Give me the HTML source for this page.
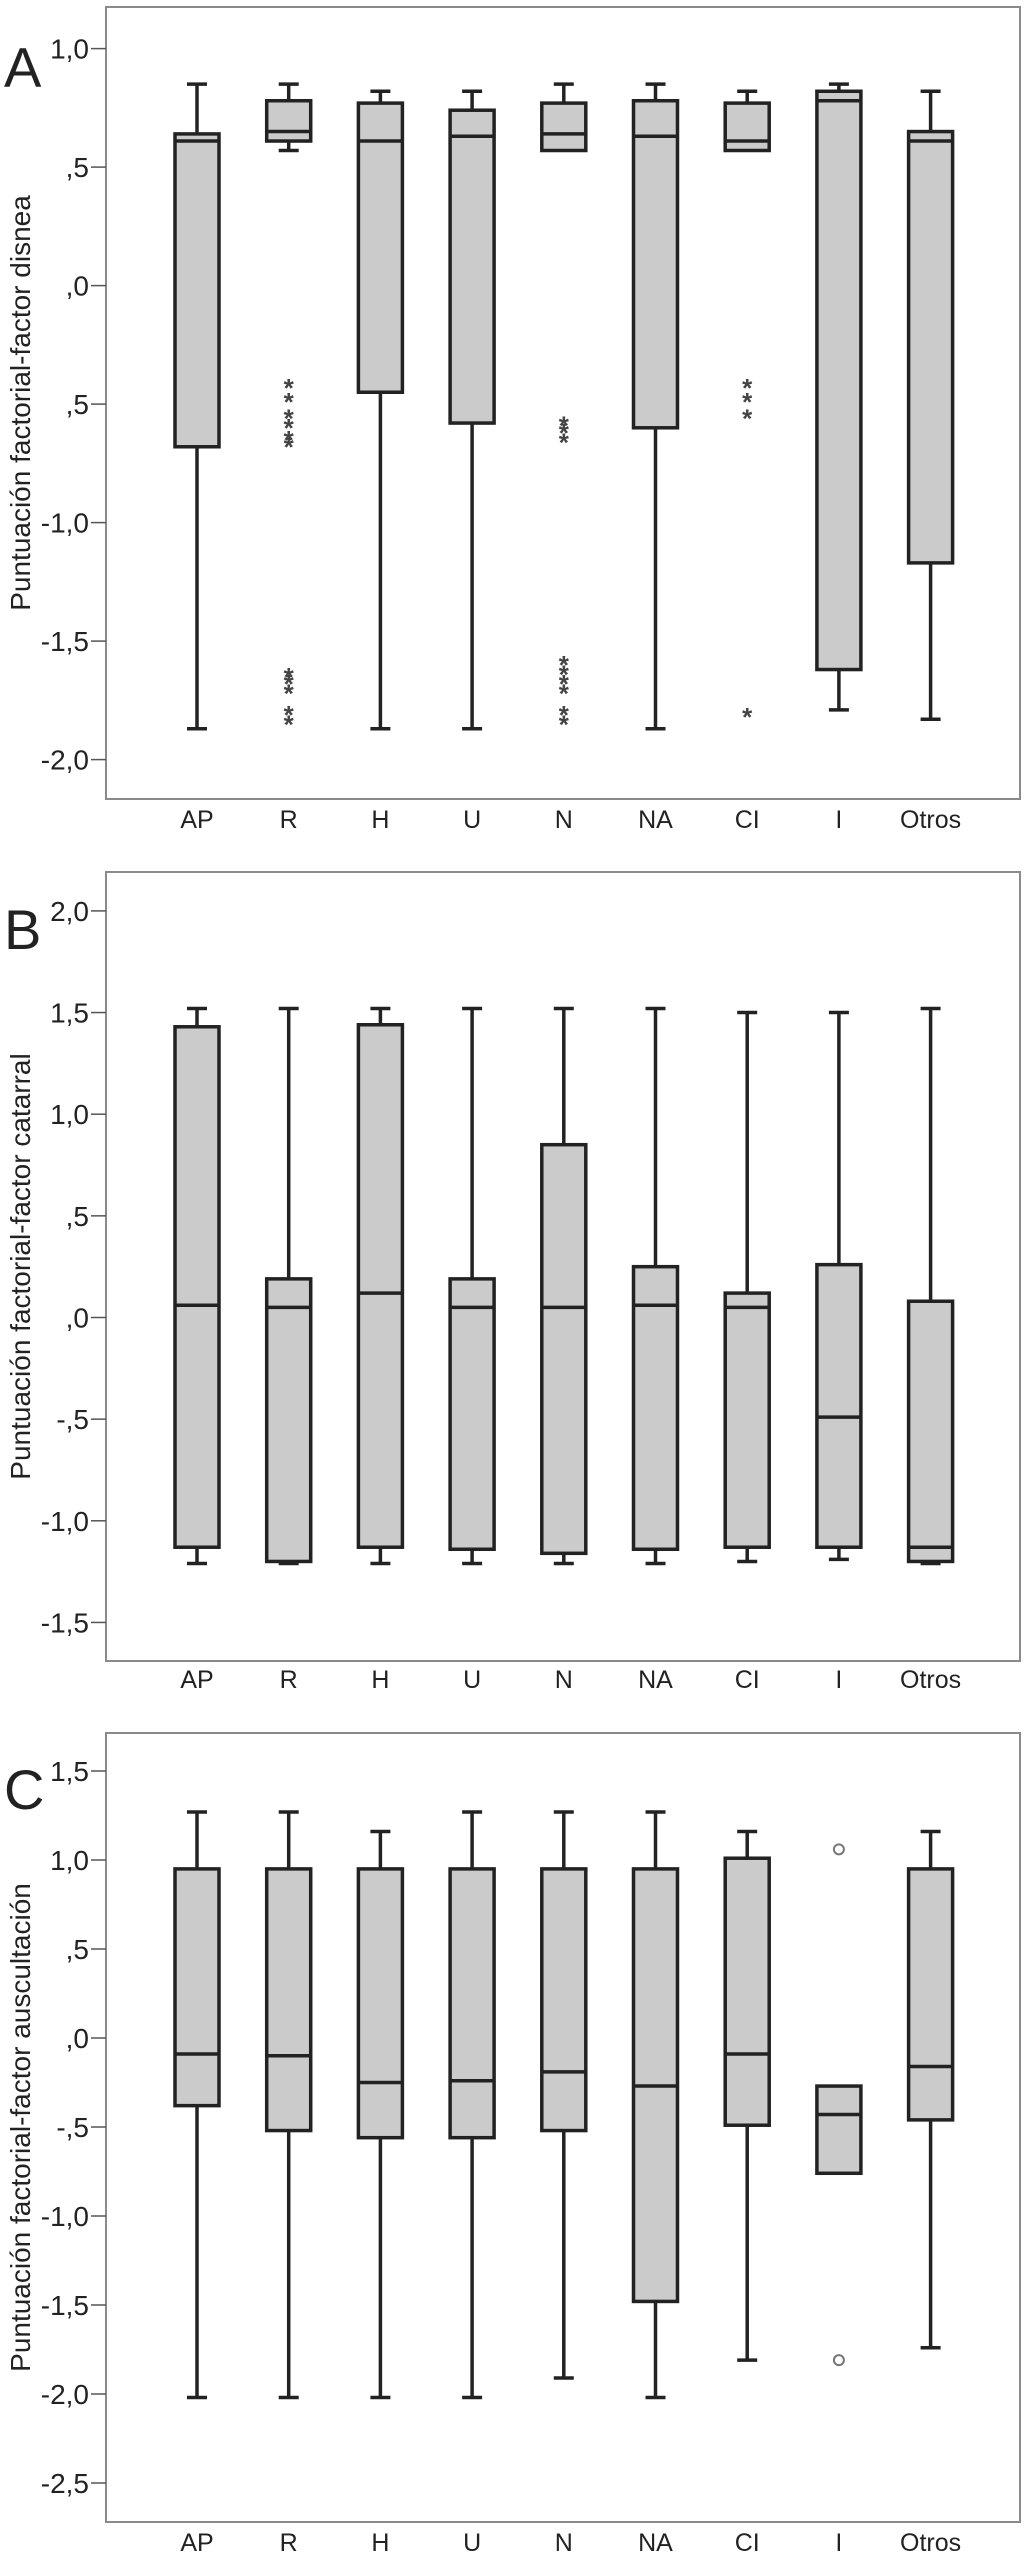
<!DOCTYPE html>
<html><head><meta charset="utf-8"><style>
html,body{margin:0;padding:0;background:#fff;}
svg{display:block;}
text{font-family:"Liberation Sans",Arial,sans-serif;fill:#222;}
</style></head><body>
<svg id="chart" width="1024" height="2557" viewBox="0 0 1024 2557" xmlns="http://www.w3.org/2000/svg"></svg>
<script>
const categories = ["AP","R","H","U","N","NA","CI","I","Otros"];

// Panel A: disnea
const aWhiskerHigh = [0.85,0.85,0.82,0.82,0.85,0.85,0.82,0.85,0.82];
const aQ3 = [0.64,0.78,0.77,0.74,0.77,0.78,0.77,0.82,0.65];
const aMedian = [0.61,0.65,0.61,0.63,0.64,0.63,0.61,0.78,0.61];
const aQ1 = [-0.68,0.61,-0.45,-0.58,0.57,-0.60,0.57,-1.62,-1.17];
const aWhiskerLow = [-1.87,0.57,-1.87,-1.87,0.57,-1.87,0.57,-1.79,-1.83];
const aOutliers = [[],[-0.41,-0.47,-0.54,-0.58,-0.63,-0.66,-1.63,-1.66,-1.70,-1.79,-1.83],[],[],[-0.57,-0.60,-0.64,-1.58,-1.62,-1.66,-1.70,-1.79,-1.83],[],[-0.41,-0.47,-0.54,-1.80],[],[]];
const aTicks = [1.0,0.5,0.0,-0.5,-1.0,-1.5,-2.0];
const aTickLabels = ["1,0",",5",",0",",5","-1,0","-1,5","-2,0"];

// Panel B: catarral
const bWhiskerHigh = [1.52,1.52,1.52,1.52,1.52,1.52,1.50,1.50,1.52];
const bQ3 = [1.43,0.19,1.44,0.19,0.85,0.25,0.12,0.26,0.08];
const bMedian = [0.06,0.05,0.12,0.05,0.05,0.06,0.05,-0.49,-1.13];
const bQ1 = [-1.13,-1.20,-1.13,-1.14,-1.16,-1.14,-1.13,-1.13,-1.20];
const bWhiskerLow = [-1.21,-1.21,-1.21,-1.21,-1.21,-1.21,-1.20,-1.19,-1.21];
const bTicks = [2.0,1.5,1.0,0.5,0.0,-0.5,-1.0,-1.5];
const bTickLabels = ["2,0","1,5","1,0",",5",",0","-,5","-1,0","-1,5"];

// Panel C: auscultación
const cWhiskerHigh = [1.27,1.27,1.16,1.27,1.27,1.27,1.16,null,1.16];
const cQ3 = [0.95,0.95,0.95,0.95,0.95,0.95,1.01,-0.27,0.95];
const cMedian = [-0.09,-0.10,-0.25,-0.24,-0.19,-0.27,-0.09,-0.43,-0.16];
const cQ1 = [-0.38,-0.52,-0.56,-0.56,-0.52,-1.48,-0.49,-0.76,-0.46];
const cWhiskerLow = [-2.02,-2.02,-2.02,-2.02,-1.91,-2.02,-1.81,null,-1.74];
const cCircles = [[],[],[],[],[],[],[],[1.06,-1.81],[]];
const cTicks = [1.5,1.0,0.5,0.0,-0.5,-1.0,-1.5,-2.0,-2.5];
const cTickLabels = ["1,5","1,0",",5",",0","-,5","-1,0","-1,5","-2,0","-2,5"];

const NS = "http://www.w3.org/2000/svg";
const svg = document.getElementById("chart");
function mk(parent, tag, attrs){ const e=document.createElementNS(NS,tag); for(const k in attrs) e.setAttribute(k,attrs[k]); parent.appendChild(e); return e; }

function panel(cfg){
  const g = mk(svg,"g",{});
  
  
  const L=106,R=1020;
  const y = v => cfg.zeroY - v*cfg.ppu;
  const x = i => 197 + i*91.7;
  const frame = mk(g,"rect",{x:L,y:cfg.top,width:R-L,height:cfg.bottom-cfg.top,fill:"none",stroke:"#8a8a8a","stroke-width":2});
  
  
  const letter = mk(g,"text",{x:4,y:y(cfg.ticks[0])+38,"font-size":56});
  letter.textContent = cfg.letter;
  
  
  cfg.ticks.forEach((t,i)=>{
    const ln = mk(g,"line",{x1:91,x2:L,y1:y(t),y2:y(t),stroke:"#555","stroke-width":1.5});
    
    
    const tx = mk(g,"text",{x:89,y:y(t)+10,"text-anchor":"end","font-size":28});
    tx.textContent = cfg.tickLabels[i];
    
    
  });
  const cy=(cfg.top+cfg.bottom)/2;
  const title = mk(g,"text",{x:0,y:0,"font-size":28,"text-anchor":"middle",transform:`translate(30,${cy}) rotate(-90)`});
  title.textContent = cfg.title;
  
  
  categories.forEach((c,i)=>{
    const cx=x(i);
    const bg = mk(g,"g",{});
    
    
    const st={stroke:"#222","stroke-width":3.5};
    if(cfg.wh[i]!=null && cfg.wh[i]>cfg.q3[i]){
      mk(bg,"line",Object.assign({x1:cx,x2:cx,y1:y(cfg.wh[i]),y2:y(cfg.q3[i])},st));
      mk(bg,"line",Object.assign({x1:cx-10,x2:cx+10,y1:y(cfg.wh[i]),y2:y(cfg.wh[i])},st));
    }
    if(cfg.wl[i]!=null && cfg.wl[i]<cfg.q1[i]){
      mk(bg,"line",Object.assign({x1:cx,x2:cx,y1:y(cfg.q1[i]),y2:y(cfg.wl[i])},st));
      mk(bg,"line",Object.assign({x1:cx-10,x2:cx+10,y1:y(cfg.wl[i]),y2:y(cfg.wl[i])},st));
    }
    mk(bg,"rect",Object.assign({x:cx-22,y:y(cfg.q3[i]),width:44,height:y(cfg.q1[i])-y(cfg.q3[i]),fill:"#cbcbcb"},st));
    mk(bg,"line",Object.assign({x1:cx-22,x2:cx+22,y1:y(cfg.med[i]),y2:y(cfg.med[i])},st));
    (cfg.out?cfg.out[i]:[]).forEach(v=>{
      const s=mk(bg,"text",{x:cx,y:y(v)+14,"text-anchor":"middle","font-size":26,"font-weight":"bold",style:"fill:#444"});
      s.textContent="*";
      
      
    });
    (cfg.circ?cfg.circ[i]:[]).forEach(v=>{
      const s=mk(bg,"circle",{cx:cx,cy:y(v),r:5,fill:"none",stroke:"#777","stroke-width":2});
      
      
    });
    const lb = mk(g,"text",{x:cx,y:cfg.labelY,"text-anchor":"middle","font-size":25});
    lb.textContent=c;
    
    
  });
}

panel({name:"panel-a-disnea",letter:"A",title:"Puntuación factorial-factor disnea",top:7,bottom:799,zeroY:285.6,ppu:237,
  ticks:aTicks,tickLabels:aTickLabels,wh:aWhiskerHigh,q3:aQ3,med:aMedian,q1:aQ1,wl:aWhiskerLow,out:aOutliers,labelY:828});
panel({name:"panel-b-catarral",letter:"B",title:"Puntuación factorial-factor catarral",top:872,bottom:1661,zeroY:1317.5,ppu:203.3,
  ticks:bTicks,tickLabels:bTickLabels,wh:bWhiskerHigh,q3:bQ3,med:bMedian,q1:bQ1,wl:bWhiskerLow,labelY:1688});
panel({name:"panel-c-auscultacion",letter:"C",title:"Puntuación factorial-factor auscultación",top:1733,bottom:2522,zeroY:2038,ppu:178,
  ticks:cTicks,tickLabels:cTickLabels,wh:cWhiskerHigh,q3:cQ3,med:cMedian,q1:cQ1,wl:cWhiskerLow,circ:cCircles,labelY:2551});
</script>
</body></html>
